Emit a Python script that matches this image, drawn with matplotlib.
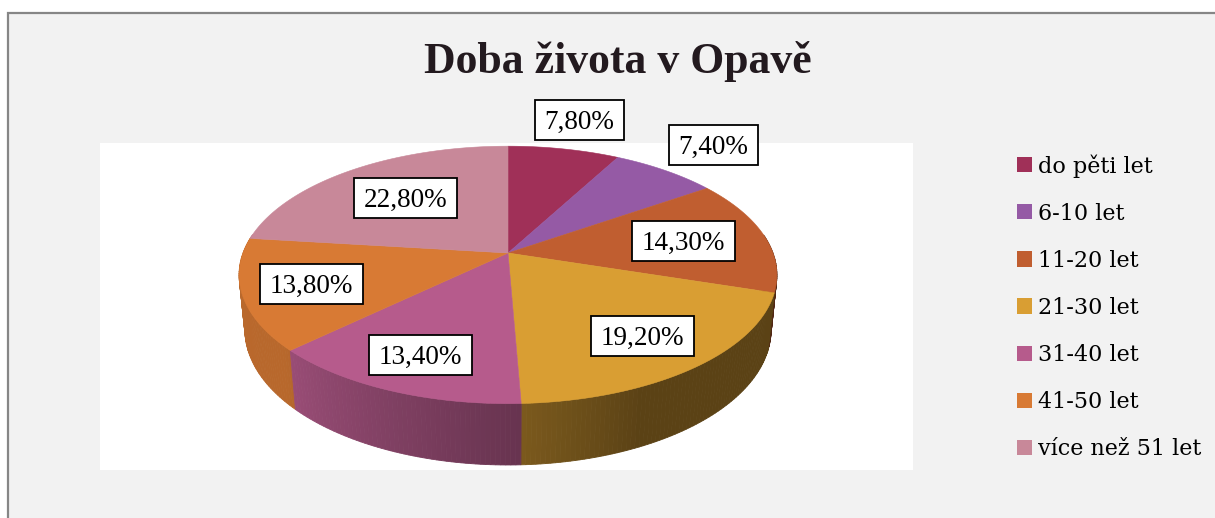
import numpy as np
import matplotlib
matplotlib.use("Agg")
import matplotlib.pyplot as plt
from matplotlib.patches import Polygon, Rectangle, Patch

# data
categories = ["do pěti let", "6-10 let", "11-20 let", "21-30 let",
              "31-40 let", "41-50 let", "více než 51 let"]
values = [7.8, 7.4, 14.3, 19.2, 13.4, 13.8, 22.8]
labels = ["7,80%", "7,40%", "14,30%", "19,20%", "13,40%", "13,80%", "22,80%"]
colors = ["#a03058", "#955aa5", "#c05e30", "#d99e33",
          "#b65b8c", "#d87a34", "#c88899"]

# how far out each label sits (fraction of the radius)
label_radius = [1.34, 1.36, 0.68, 0.75, 0.77, 0.75, 0.63]

# fake 3d pie: a tilted disc seen in perspective
CX, CY = 508, 253
SCALE = 265
SIN_E, COS_E = 0.4717, 0.8817
PERSP = 0.193
DEPTH = -0.2375

W, H = 1215, 518
SERIF = "Liberation Serif"


def project(theta, r=1.0, z=0.0):
    """Project a point of the disc (angle clockwise from 12 o'clock) to pixels."""
    X = r * np.sin(theta)
    Y = r * np.cos(theta)
    w = 1 + PERSP * (Y * COS_E - z * SIN_E)
    return CX + SCALE * X / w, CY - SCALE * (Y * SIN_E + z * COS_E) / w


def shade(theta):
    deg = np.degrees(theta) % 360
    return np.interp(deg, [90, 155, 178, 228, 290],
                     [0.42, 0.42, 0.57, 0.85, 0.87])


fig = plt.figure(figsize=(W / 100, H / 100), dpi=100)
fig.patch.set_facecolor("white")
ax = fig.add_axes([0, 0, 1, 1])
ax.set_xlim(0, W)
ax.set_ylim(H, 0)
ax.axis("off")

# chart area and plot area
ax.add_patch(Rectangle((8, 13), W, H, facecolor="#f2f2f2",
                       edgecolor="#868686", lw=1.6, zorder=0))
ax.add_patch(Rectangle((100, 143), 813, 327, facecolor="white",
                       edgecolor="none", zorder=0.5))

fractions = np.array(values) / np.sum(values)
bounds = np.concatenate([[0], np.cumsum(fractions)]) * 2 * np.pi

# side walls, painted far to near
strips = []
for i, color in enumerate(colors):
    t = np.linspace(bounds[i], bounds[i + 1],
                    max(3, int(fractions[i] * 400)))
    rgb = np.array(matplotlib.colors.to_rgb(color))
    for a, b in zip(t[:-1], t[1:]):
        mid = (a + b) / 2
        if np.cos(mid) > 0.15:
            continue
        xa, ya = project(a)
        xb, yb = project(b)
        xc, yc = project(b, z=DEPTH)
        xd, yd = project(a, z=DEPTH)
        c = np.clip(rgb * shade(mid), 0, 1)
        strips.append((np.cos(mid), [(xa, ya), (xb, yb), (xc, yc), (xd, yd)], c))

for _, pts, c in sorted(strips, key=lambda s: -s[0]):
    ax.add_patch(Polygon(pts, closed=True, facecolor=c, edgecolor=c,
                         lw=0.6, zorder=1))

# top faces
for i, color in enumerate(colors):
    t = np.linspace(bounds[i], bounds[i + 1], 200)
    xs, ys = project(t)
    pts = [(CX, CY)] + list(zip(xs, ys))
    ax.add_patch(Polygon(pts, closed=True, facecolor=color,
                         edgecolor=color, lw=0.4, zorder=2))

# data labels: text first, then a box sized from its extent
fig.canvas.draw()
renderer = fig.canvas.get_renderer()
label_size = 19.5
digit_h = 0.66 * label_size * 100 / 72
for i, text in enumerate(labels):
    mid = (bounds[i] + bounds[i + 1]) / 2
    x, y = project(mid, r=label_radius[i])
    t = ax.text(x, y + digit_h / 2, text, ha="center", va="baseline",
                fontsize=label_size, family=SERIF, color="black", zorder=6)
    tw = t.get_window_extent(renderer).width
    bw, bh = tw + 20, 40
    ax.add_patch(Rectangle((x - bw / 2, y - bh / 2), bw, bh,
                           facecolor="white", edgecolor="black",
                           lw=1.3, zorder=5))

ax.text(618, 73, "Doba života v Opavě", ha="center", va="baseline",
        fontsize=31.5, fontweight="bold", family=SERIF, color="#231a1f")

handles = [Patch(facecolor=c, edgecolor="none") for c in colors]
ax.legend(handles, categories, loc="upper left",
          bbox_to_anchor=(1017 / W, 1 - 154 / H), frameon=False,
          prop={"family": "DejaVu Serif", "size": 16}, handlelength=0.68,
          handleheight=0.68, handletextpad=0.27, labelspacing=1.13,
          borderaxespad=0, borderpad=0)

fig.savefig("out.png", dpi=100, facecolor="white")
